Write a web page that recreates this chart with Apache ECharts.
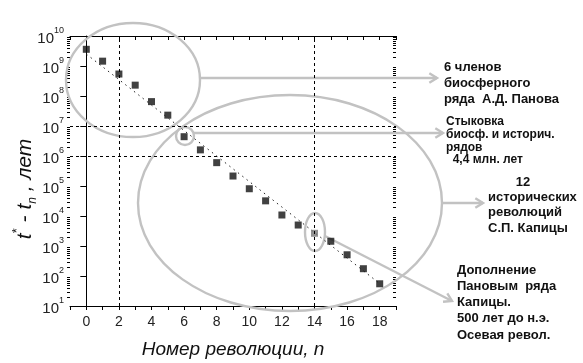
<!DOCTYPE html>
<html><head><meta charset="utf-8">
<script src="https://cdn.jsdelivr.net/npm/echarts@6/dist/echarts.min.js"></script>
<style>html,body{margin:0;padding:0;background:#fff}#c{width:583px;height:363px}</style>
</head><body><div id="c"></div>
<script>
// ---- data ----
const nValues = [0,1,2,3,4,5,6,7,8,9,10,11,12,13,14,15,16,17,18];
const yearsValues = [3.6e9,1.45e9,5.4e8,2.3e8,6.5e7,2.3e7,4.4e6,1.6e6,6.0e5,2.15e5,8.1e4,3.2e4,1.08e4,5.0e3,2.65e3,1.44e3,5.1e2,1.75e2,55];
const highlightN = [14];
const trendN = [0, 18];
const trendV = [2.5e9, 56];
const refLinesN = [2, 14];
const refLinesV = [1e7, 1e6];
const xTickLabels = ['0','2','4','6','8','10','12','14','16','18'];
const yTickExponents = [1,2,3,4,5,6,7,8,9,10];
const minorMultipliers = [2,3,4,5,6,7,8,9];
const noteBlock1 = ['6 членов','биосферного','ряда  А.Д. Панова'];
const noteBlock2 = ['Стыковка','биосф. и историч.','рядов','  4,4 млн. лет'];
const noteBlock3 = ['12','исторических','революций','С.П. Капицы'];
const noteBlock4 = ['Дополнение','Пановым  ряда','Капицы.','500 лет до н.э.','Осевая револ.'];

const FONT = '"Liberation Sans", Arial, sans-serif';
const GREY = '#c2c2c2';
const chart = echarts.init(document.getElementById('c'), null, {renderer:'canvas'});

const scatterData = nValues.map((n,i)=>({
  value:[n, yearsValues[i]],
  itemStyle:{color: highlightN.includes(n) ? '#777' : '#111'}
}));

const option = {
  animation:false,
  backgroundColor:'#fff',
  grid:{left:70,right:187,top:36,bottom:57,containLabel:false,outerBoundsMode:'none'},
  xAxis:[{
    type:'value',min:-1,max:19,interval:1,position:'bottom',
    axisLine:{lineStyle:{color:'#000',width:1}},
    axisTick:{show:true,length:4,lineStyle:{color:'#000'}},
    axisLabel:{interval:0,margin:9,fontFamily:FONT,fontSize:14,color:'#222',
      formatter:v=> xTickLabels.includes(String(v)) ? String(v) : ''},
    splitLine:{show:false},
    name:'Номер революции, n',nameLocation:'middle',nameGap:34,nameMoveOverlap:false,
    nameTextStyle:{fontFamily:FONT,fontStyle:'italic',fontSize:19,color:'#111'}
  },{
    type:'value',min:-1,max:19,interval:1,position:'top',
    axisLine:{lineStyle:{color:'#000',width:1}},
    axisTick:{show:true,inside:true,length:4,lineStyle:{color:'#000'}},
    axisLabel:{show:false},splitLine:{show:false}
  }],
  yAxis:[{
    type:'log',logBase:10,min:10,max:1e10,splitNumber:9,position:'left',
    axisLine:{show:true,lineStyle:{color:'#000',width:1}},
    axisTick:{show:true,length:6,lineStyle:{color:'#000'}},
    splitLine:{show:false},
    axisLabel:{margin:6,
      formatter:v=>{const e=Math.round(Math.log10(v)); return yTickExponents.includes(e) ? '{b|10}{s|'+e+'}' : '';},
      rich:{
        b:{fontFamily:FONT,fontSize:15,color:'#222',lineHeight:20,verticalAlign:'bottom'},
        s:{fontFamily:FONT,fontSize:9,color:'#222',lineHeight:10,verticalAlign:'top'}
      }},
    name:'{i|t}{sp|*}{i| - t}{sb|n}{i| , лет}',
    nameLocation:'middle',nameGap:31,nameRotate:90,nameMoveOverlap:false,
    nameTextStyle:{padding:[0,36,0,0],rich:{
      i:{fontFamily:FONT,fontStyle:'italic',fontSize:21,color:'#111',lineHeight:28,verticalAlign:'middle'},
      sp:{fontFamily:FONT,fontSize:13,color:'#111',lineHeight:12,verticalAlign:'top'},
      sb:{fontFamily:FONT,fontStyle:'italic',fontSize:12,color:'#111',lineHeight:12,verticalAlign:'bottom'}
    }}
  },{
    type:'log',logBase:10,min:10,max:1e10,splitNumber:9,position:'right',
    axisLine:{show:false},
    axisTick:{show:true,inside:true,length:5,lineStyle:{color:'#000'}},
    axisLabel:{show:false},splitLine:{show:false}
  }],
  series:[{
    type:'line',xAxisIndex:0,yAxisIndex:0,
    data:trendN.map((n,i)=>[n,trendV[i]]),
    symbol:'none',lineStyle:{color:'#222',width:1,type:[1.5,4]},z:3,silent:true
  },{
    type:'scatter',xAxisIndex:0,yAxisIndex:0,
    data:scatterData,symbol:'rect',symbolSize:7,z:4,
    markLine:{
      silent:true,symbol:'none',label:{show:false},
      lineStyle:{color:'#000',width:1,type:[3,3]},
      data:[...refLinesN.map(n=>({xAxis:n})),...refLinesV.map(v=>({yAxis:v}))]
    }
  }]
};
chart.setOption(option);

// ---- decorations: log minor ticks, annotation shapes and notes ----
const px = p => chart.convertToPixel({xAxisIndex:0,yAxisIndex:0}, p);
const xl = px([-1,10])[0], xr = px([19,10])[0];
const g = [];
for (let k=1;k<10;k++){
  minorMultipliers.forEach(m=>{
    const y = Math.round(px([0, m*Math.pow(10,k)])[1]) + 0.5;
    g.push({type:'line',shape:{x1:xl-3,y1:y,x2:xl,y2:y},style:{stroke:'#000',lineWidth:1},silent:true});
    g.push({type:'line',shape:{x1:xr-3,y1:y,x2:xr,y2:y},style:{stroke:'#000',lineWidth:1},silent:true});
  });
}
const annoStyle = {fill:'none',stroke:GREY,lineWidth:2.4};
function ellipse(cx,cy,rx,ry){g.push({type:'ellipse',shape:{cx,cy,rx,ry},style:annoStyle,silent:true,z:1});}
function arrow(x1,y1,x2,y2){
  g.push({type:'line',shape:{x1,y1,x2,y2},style:annoStyle,silent:true,z:1});
  const a=Math.atan2(y2-y1,x2-x1), L=9, W=0.55;
  g.push({type:'polyline',shape:{points:[
    [x2-L*Math.cos(a-W), y2-L*Math.sin(a-W)],[x2,y2],[x2-L*Math.cos(a+W), y2-L*Math.sin(a+W)]]},
    style:annoStyle,silent:true,z:1});
}
ellipse(133,80,67,57);
ellipse(290,203,152,108);
ellipse(185,136,9,9);
ellipse(315,232,10,19);
arrow(200,78,437,78);
arrow(194,133,443,133);
arrow(443,203,483,203);
arrow(325,236,452,301);

function block(lines,x,y0,dy,size,align){
  lines.forEach((t,i)=>g.push({type:'text',x:x,y:y0+i*dy,silent:true,z:5,
    style:{text:t,fill:'#111',font:'bold '+size+'px '+FONT,textAlign:align||'left',textVerticalAlign:'middle'}}));
}
block(noteBlock1,444,67,16,13);
block(noteBlock2,446,122,12.7,12);
block(noteBlock3.slice(0,1),523,182,0,13,'center');
block(noteBlock3.slice(1),488,197,15.7,13);
block(noteBlock4,457,270,16.3,13);
chart.setOption({graphic:g});
</script></body></html>
